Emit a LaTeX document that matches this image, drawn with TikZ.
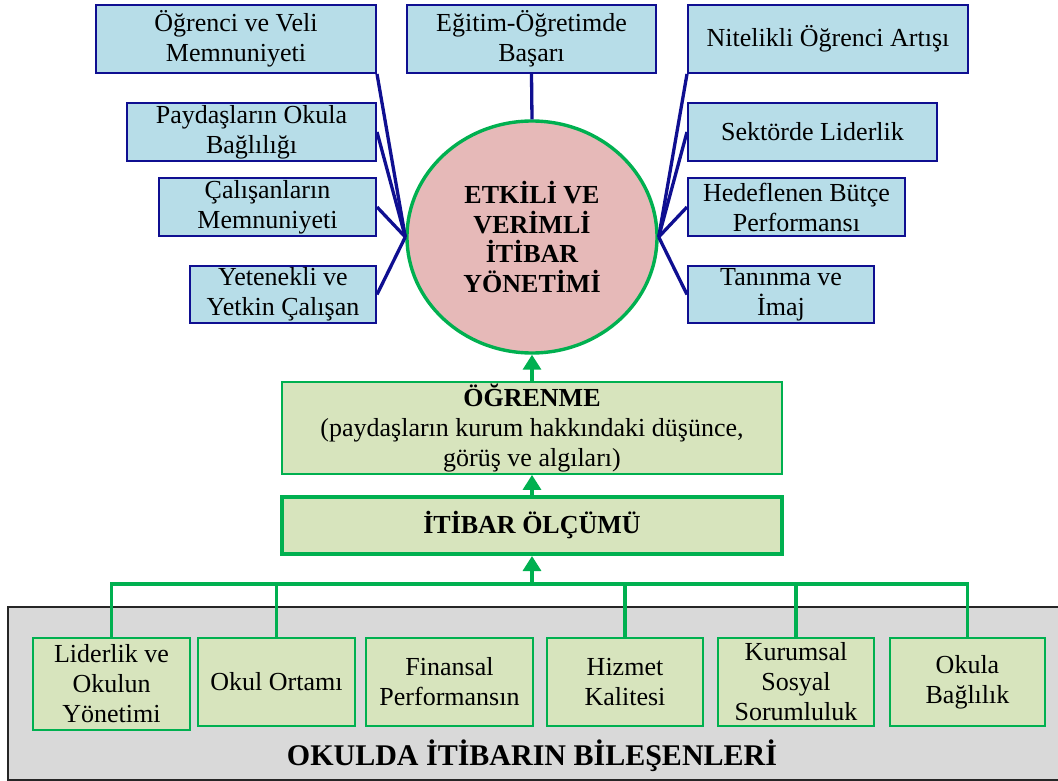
\documentclass[tikz,border=0pt]{standalone}
\usepackage{fontspec}
\setmainfont{Liberation Serif}
\usetikzlibrary{shapes.geometric,arrows.meta}
\definecolor{bluef}{HTML}{B7DDE8}
\definecolor{blued}{RGB}{15,15,145}
\definecolor{pinkf}{HTML}{E6B9B8}
\definecolor{greenc}{HTML}{00B050}
\definecolor{greenf}{HTML}{D7E4BD}
\definecolor{greyf}{HTML}{D9D9D9}
\tikzset{
  txt/.style={font=\fontsize{26}{30}\selectfont, align=center, inner sep=0pt, text=black},
  bluebox/.style={txt, rectangle, draw=blued, fill=bluef, line width=2pt},
  bluelink/.style={draw=blued, line width=3.3pt},
  greenbox/.style={txt, rectangle, draw=greenc, fill=greenf, line width=1.8pt},
  greenlink/.style={draw=greenc, line width=3.3pt},
  greenarrow/.style={greenlink, -{Triangle[width=18pt,length=15pt]}},
}
\begin{document}
\begin{tikzpicture}[x=1pt,y=-1pt]
\useasboundingbox (0,0) rectangle (1058,781);
% components area
\node[rectangle, draw=black!85, fill=greyf, line width=2pt, minimum width=1054pt, minimum height=173pt, inner sep=0pt] (comp) at (535,693.5) {};
\node[txt, font=\fontsize{30}{34}\selectfont\bfseries] (comptitle) at (532,756) {OKULDA İTİBARIN BİLEŞENLERİ};
% top-left boxes
\node[bluebox, minimum width=280pt, minimum height=68pt] (l1) at (236,39) {Öğrenci ve Veli\\Memnuniyeti};
\node[bluebox, minimum width=249pt, minimum height=58pt] (l2) at (251.5,132) {Paydaşların Okula\\Bağlılığı};
\node[bluebox, minimum width=217pt, minimum height=58pt] (l3) at (267.5,207) {Çalışanların\\Memnuniyeti};
\node[bluebox, minimum width=186pt, minimum height=57pt] (l4) at (283,294.5) {Yetenekli ve\\Yetkin Çalışan};
% top-center
\node[bluebox, minimum width=249pt, minimum height=68pt] (c1) at (531.5,39) {Eğitim-Öğretimde\\Başarı};
% top-right boxes
\node[bluebox, minimum width=280pt, minimum height=68pt] (r1) at (828,39) {Nitelikli Öğrenci Artışı};
\node[bluebox, minimum width=249pt, minimum height=58pt] (r2) at (812.5,132) {Sektörde Liderlik};
\node[bluebox, minimum width=217pt, minimum height=58pt] (r3) at (796.5,207) {Hedeflenen Bütçe\\Performansı};
\node[bluebox, minimum width=186pt, minimum height=57pt] (r4) at (781,294.5) {Tanınma ve\\İmaj};
% circle
\node[txt, ellipse, draw=greenc, fill=pinkf, line width=3.4pt, minimum width=250pt, minimum height=232pt, font=\fontsize{26}{29.7}\selectfont\bfseries] (circ) at (532,237) {ETKİLİ VE\\VERİMLİ\\İTİBAR\\YÖNETİMİ};
% links to circle
\draw[bluelink] (l1.south east) -- (circ.west);
\draw[bluelink] (l2.east) -- (circ.west);
\draw[bluelink] (l3.east) -- (circ.west);
\draw[bluelink] (l4.east) -- (circ.west);
\draw[bluelink] (r1.south west) -- (circ.east);
\draw[bluelink] (r2.west) -- (circ.east);
\draw[bluelink] (r3.west) -- (circ.east);
\draw[bluelink] (r4.west) -- (circ.east);
\draw[bluelink] (c1.south) -- (circ.north);
% learning and measurement
\node[greenbox, minimum width=500pt, minimum height=92pt] (ogr) at (532,428) {\textbf{ÖĞRENME}\\(paydaşların kurum hakkındaki düşünce,\\görüş ve algıları)};
\node[greenbox, line width=4pt, minimum width=500pt, minimum height=57pt, font=\fontsize{26}{30}\selectfont\bfseries] (olc) at (532,525.5) {İTİBAR ÖLÇÜMÜ};
\draw[greenarrow] (ogr.north) -- (circ.south);
\draw[greenarrow] (olc.north) -- (ogr.south);
% components
\node[greenbox, minimum width=157pt, minimum height=92pt] (b1) at (111.5,684) {Liderlik ve\\Okulun\\Yönetimi};
\node[greenbox, minimum width=157pt, minimum height=88pt] (b2) at (276.5,682) {Okul Ortamı};
\node[greenbox, minimum width=167pt, minimum height=88pt] (b3) at (449.5,682) {Finansal\\Performansın};
\node[greenbox, minimum width=156pt, minimum height=88pt] (b4) at (625,682) {Hizmet\\Kalitesi};
\node[greenbox, minimum width=156pt, minimum height=88pt] (b5) at (796,682) {Kurumsal\\Sosyal\\Sorumluluk};
\node[greenbox, minimum width=155pt, minimum height=88pt] (b6) at (967.5,682) {Okula\\Bağlılık};
% bus
\coordinate (bus) at (532,584);
\draw[greenlink] (b1.north) |- (bus) -| (b6.north);
\draw[greenlink] (b2.north) -- (b2.north |- bus);
\draw[greenlink] (b4.north) -- (b4.north |- bus);
\draw[greenlink] (b5.north) -- (b5.north |- bus);
\draw[greenarrow] (bus) -- (olc.south);
\end{tikzpicture}
\end{document}
